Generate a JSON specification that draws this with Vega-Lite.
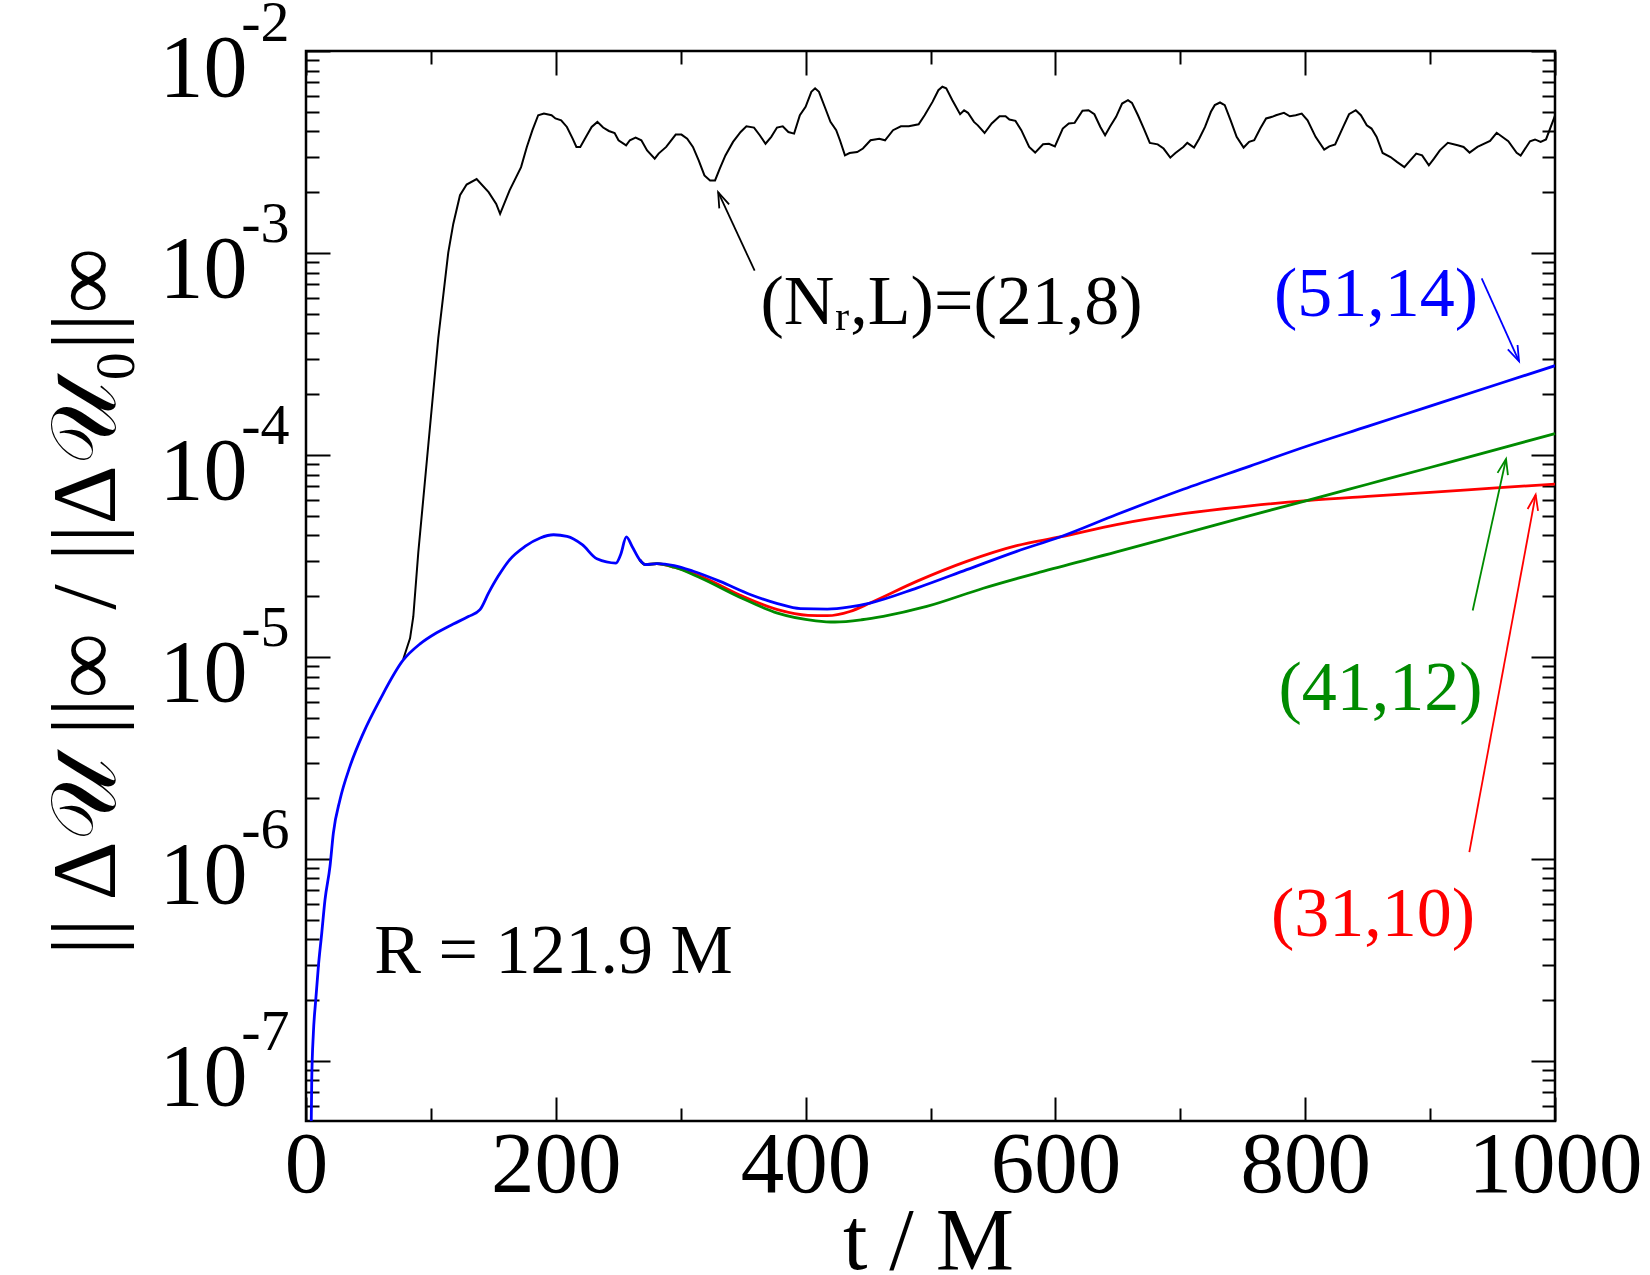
{
  "$schema": "https://vega.github.io/schema/vega-lite/v6.json",
  "width": 1249,
  "height": 1070,
  "autosize": {"type": "none"},
  "padding": {"left": 306, "top": 51, "right": 95, "bottom": 154},
  "background": "#ffffff",
  "config": {
    "view": {"stroke": "#000000", "strokeWidth": 2.5},
    "axis": {
      "grid": false, "domain": false, "tickColor": "#000000", "tickWidth": 2,
      "labelFont": "Liberation Serif", "labelColor": "#000000",
      "titleFont": "Liberation Serif", "titleColor": "#000000", "titleFontWeight": "normal",
      "labelOverlap": false, "labelFlush": false, "labelBound": false
    },
    "text": {"font": "Liberation Serif"}
  },
  "datasets": {
    "black": [
      {"t":77.9,"v":9.77e-6},{"t":83.3,"v":1.236e-5},{"t":85.9,"v":1.581e-5},{"t":89.9,"v":3.289e-5},{"t":93.9,"v":6.053e-5},
      {"t":97.9,"v":1.117e-4},{"t":101.9,"v":2.056e-4},{"t":105.9,"v":3.784e-4},{"t":109.9,"v":6.166e-4},{"t":113.9,"v":1.005e-3},
      {"t":117.9,"v":1.393e-3},{"t":123.3,"v":1.932e-3},{"t":128.6,"v":2.183e-3},{"t":136.6,"v":2.323e-3},{"t":146.2,"v":2.000e-3},
      {"t":152.3,"v":1.750e-3},{"t":155.4,"v":1.563e-3},{"t":163.0,"v":2.042e-3},{"t":172.2,"v":2.661e-3},{"t":176.8,"v":3.350e-3},
      {"t":181.3,"v":4.055e-3},{"t":185.9,"v":4.808e-3},{"t":190.5,"v":4.898e-3},{"t":196.6,"v":4.808e-3},{"t":199.7,"v":4.634e-3},
      {"t":204.3,"v":4.539e-3},{"t":208.9,"v":4.207e-3},{"t":213.5,"v":3.681e-3},{"t":216.5,"v":3.350e-3},{"t":219.6,"v":3.350e-3},
      {"t":224.2,"v":3.758e-3},{"t":228.7,"v":4.207e-3},{"t":233.3,"v":4.457e-3},{"t":237.9,"v":4.178e-3},{"t":242.5,"v":4.018e-3},
      {"t":247.1,"v":3.926e-3},{"t":250.2,"v":3.614e-3},{"t":256.3,"v":3.412e-3},{"t":259.3,"v":3.614e-3},{"t":263.9,"v":3.724e-3},
      {"t":268.5,"v":3.614e-3},{"t":273.1,"v":3.221e-3},{"t":279.2,"v":2.931e-3},{"t":282.3,"v":3.105e-3},{"t":288.4,"v":3.350e-3},
      {"t":296.0,"v":3.855e-3},{"t":300.6,"v":3.855e-3},{"t":305.2,"v":3.681e-3},{"t":309.8,"v":3.350e-3},{"t":314.4,"v":2.877e-3},
      {"t":319.0,"v":2.421e-3},{"t":323.5,"v":2.286e-3},{"t":327.5,"v":2.286e-3},{"t":331.2,"v":2.612e-3},{"t":335.8,"v":3.041e-3},
      {"t":341.9,"v":3.548e-3},{"t":348.0,"v":3.972e-3},{"t":352.6,"v":4.236e-3},{"t":358.7,"v":4.178e-3},{"t":363.3,"v":3.828e-3},
      {"t":367.9,"v":3.475e-3},{"t":372.5,"v":3.758e-3},{"t":377.1,"v":4.178e-3},{"t":381.7,"v":4.236e-3},{"t":386.2,"v":3.972e-3},
      {"t":390.8,"v":3.899e-3},{"t":395.4,"v":4.808e-3},{"t":400.0,"v":5.297e-3},{"t":404.6,"v":6.281e-3},{"t":407.6,"v":6.531e-3},
      {"t":410.7,"v":6.281e-3},{"t":415.3,"v":5.297e-3},{"t":419.9,"v":4.457e-3},{"t":424.5,"v":4.055e-3},{"t":427.5,"v":3.614e-3},
      {"t":431.5,"v":3.041e-3},{"t":435.2,"v":3.126e-3},{"t":441.3,"v":3.162e-3},{"t":445.9,"v":3.289e-3},{"t":452.0,"v":3.614e-3},
      {"t":459.0,"v":3.681e-3},{"t":463.6,"v":3.614e-3},{"t":470.0,"v":4.055e-3},{"t":476.3,"v":4.236e-3},{"t":482.6,"v":4.236e-3},
      {"t":490.5,"v":4.335e-3},{"t":495.3,"v":4.808e-3},{"t":501.6,"v":5.598e-3},{"t":506.3,"v":6.397e-3},{"t":509.5,"v":6.653e-3},
      {"t":512.6,"v":6.531e-3},{"t":517.4,"v":5.715e-3},{"t":523.7,"v":4.864e-3},{"t":526.9,"v":5.093e-3},{"t":530.0,"v":4.943e-3},
      {"t":534.8,"v":4.457e-3},{"t":537.9,"v":4.285e-3},{"t":543.3,"v":3.926e-3},{"t":549.0,"v":4.375e-3},{"t":555.3,"v":4.753e-3},
      {"t":560.1,"v":4.753e-3},{"t":563.2,"v":4.581e-3},{"t":568.0,"v":4.508e-3},{"t":572.7,"v":4.055e-3},{"t":579.0,"v":3.350e-3},
      {"t":583.8,"v":3.141e-3},{"t":590.1,"v":3.451e-3},{"t":594.8,"v":3.475e-3},{"t":599.6,"v":3.373e-3},{"t":605.9,"v":4.130e-3},
      {"t":610.7,"v":4.375e-3},{"t":615.4,"v":4.406e-3},{"t":621.7,"v":5.058e-3},{"t":626.5,"v":5.093e-3},{"t":631.2,"v":4.864e-3},
      {"t":636.0,"v":4.207e-3},{"t":639.8,"v":3.828e-3},{"t":643.9,"v":4.236e-3},{"t":648.6,"v":4.721e-3},{"t":653.4,"v":5.495e-3},
      {"t":658.1,"v":5.715e-3},{"t":661.3,"v":5.534e-3},{"t":666.1,"v":4.808e-3},{"t":670.8,"v":4.130e-3},{"t":675.6,"v":3.508e-3},
      {"t":681.9,"v":3.451e-3},{"t":686.6,"v":3.289e-3},{"t":692.0,"v":2.965e-3},{"t":696.1,"v":3.126e-3},{"t":702.4,"v":3.350e-3},
      {"t":705.6,"v":3.508e-3},{"t":711.0,"v":3.327e-3},{"t":715.1,"v":3.681e-3},{"t":719.8,"v":4.207e-3},{"t":724.5,"v":5.000e-3},
      {"t":727.6,"v":5.395e-3},{"t":731.8,"v":5.559e-3},{"t":735.6,"v":5.395e-3},{"t":740.3,"v":4.539e-3},{"t":745.1,"v":3.758e-3},
      {"t":750.7,"v":3.327e-3},{"t":755.1,"v":3.548e-3},{"t":759.2,"v":3.614e-3},{"t":764.0,"v":4.130e-3},{"t":768.7,"v":4.634e-3},
      {"t":773.5,"v":4.721e-3},{"t":776.6,"v":4.808e-3},{"t":783.0,"v":4.943e-3},{"t":787.7,"v":4.753e-3},{"t":792.4,"v":4.808e-3},
      {"t":797.2,"v":4.898e-3},{"t":801.9,"v":4.539e-3},{"t":808.3,"v":3.758e-3},{"t":815.2,"v":3.251e-3},{"t":819.3,"v":3.373e-3},
      {"t":824.0,"v":3.451e-3},{"t":830.4,"v":4.207e-3},{"t":835.1,"v":4.864e-3},{"t":840.5,"v":5.093e-3},{"t":844.6,"v":4.808e-3},
      {"t":849.3,"v":4.285e-3},{"t":853.1,"v":4.130e-3},{"t":857.2,"v":3.758e-3},{"t":862.0,"v":3.126e-3},{"t":868.3,"v":2.985e-3},
      {"t":873.7,"v":2.818e-3},{"t":879.4,"v":2.661e-3},{"t":884.1,"v":2.877e-3},{"t":888.9,"v":3.105e-3},{"t":893.6,"v":3.041e-3},
      {"t":899.0,"v":2.716e-3},{"t":903.1,"v":2.931e-3},{"t":907.8,"v":3.221e-3},{"t":914.2,"v":3.508e-3},{"t":922.1,"v":3.412e-3},
      {"t":926.8,"v":3.350e-3},{"t":931.6,"v":3.141e-3},{"t":937.9,"v":3.350e-3},{"t":948.0,"v":3.589e-3},{"t":953.3,"v":3.936e-3},
      {"t":962.6,"v":3.573e-3},{"t":969.3,"v":3.133e-3},{"t":972.5,"v":3.034e-3},{"t":980.0,"v":3.573e-3},{"t":984.0,"v":3.648e-3},
      {"t":988.5,"v":3.548e-3},{"t":992.8,"v":3.648e-3},{"t":1000,"v":4.786e-3}
    ],
    "blue": [
      {"t":3.9,"v":3.55e-8},{"t":4.6,"v":8.05e-8},{"t":5.9,"v":1.371e-7},{"t":7.8,"v":2.004e-7},{"t":9.9,"v":2.931e-7},
      {"t":12.6,"v":4.285e-7},{"t":15.2,"v":6.266e-7},{"t":19.2,"v":9.183e-7},{"t":21.9,"v":1.343e-6},{"t":27.2,"v":1.963e-6},
      {"t":35.2,"v":2.871e-6},{"t":45.9,"v":4.198e-6},{"t":59.2,"v":6.138e-6},{"t":77.9,"v":9.66e-6},{"t":91.3,"v":1.161e-5},
      {"t":104.6,"v":1.318e-5},{"t":117.9,"v":1.455e-5},{"t":130,"v":1.585e-5},{"t":139.3,"v":1.714e-5},{"t":146.2,"v":2.075e-5},
      {"t":153.8,"v":2.506e-5},{"t":163.0,"v":3.027e-5},{"t":175.3,"v":3.524e-5},{"t":187.5,"v":3.882e-5},{"t":198.2,"v":4.027e-5},
      {"t":209.0,"v":3.954e-5},{"t":221.2,"v":3.597e-5},{"t":232.9,"v":3.062e-5},{"t":248.2,"v":2.917e-5},{"t":251.9,"v":3.206e-5},
      {"t":256.5,"v":3.926e-5},{"t":261.1,"v":3.524e-5},{"t":267.2,"v":3.027e-5},{"t":271.8,"v":2.864e-5},{"t":281.0,"v":2.897e-5},
      {"t":294.8,"v":2.831e-5},{"t":310.1,"v":2.655e-5},{"t":331.5,"v":2.366e-5},{"t":356.1,"v":2.032e-5},{"t":377.5,"v":1.837e-5},
      {"t":395.9,"v":1.734e-5},{"t":417.4,"v":1.726e-5},{"t":435.6,"v":1.770e-5},{"t":451.6,"v":1.849e-5},{"t":488.9,"v":2.193e-5},
      {"t":529.0,"v":2.704e-5},{"t":569.0,"v":3.334e-5},{"t":603.7,"v":3.926e-5},{"t":649.0,"v":5.070e-5},{"t":702.4,"v":6.761e-5},
      {"t":755.8,"v":8.810e-5},{"t":801.2,"v":1.104e-4},{"t":850,"v":1.384e-4},{"t":900,"v":1.746e-4},{"t":955.8,"v":2.259e-4},
      {"t":1000,"v":2.767e-4}
    ],
    "red": [
      {"t":267.2,"v":3.027e-5},{"t":271.8,"v":2.864e-5},{"t":281.0,"v":2.897e-5},{"t":294.8,"v":2.780e-5},{"t":316.0,"v":2.506e-5},
      {"t":346.8,"v":2.032e-5},{"t":377.5,"v":1.714e-5},{"t":402.0,"v":1.607e-5},{"t":417.4,"v":1.600e-5},{"t":435.5,"v":1.679e-5},
      {"t":451.6,"v":1.849e-5},{"t":488.9,"v":2.366e-5},{"t":529.0,"v":2.972e-5},{"t":569.0,"v":3.556e-5},{"t":603.7,"v":3.926e-5},
      {"t":649.0,"v":4.519e-5},{"t":702.4,"v":5.117e-5},{"t":755.8,"v":5.598e-5},{"t":801.2,"v":5.943e-5},{"t":850,"v":6.237e-5},
      {"t":900,"v":6.531e-5},{"t":955.8,"v":6.887e-5},{"t":1000,"v":7.178e-5}
    ],
    "green": [
      {"t":267.2,"v":3.027e-5},{"t":271.8,"v":2.864e-5},{"t":281.0,"v":2.897e-5},{"t":294.8,"v":2.780e-5},{"t":316.0,"v":2.460e-5},
      {"t":346.8,"v":1.982e-5},{"t":377.5,"v":1.648e-5},{"t":408.2,"v":1.510e-5},{"t":423.5,"v":1.489e-5},{"t":444.9,"v":1.528e-5},
      {"t":462.2,"v":1.589e-5},{"t":497.0,"v":1.778e-5},{"t":542.3,"v":2.188e-5},{"t":587.7,"v":2.630e-5},{"t":649.0,"v":3.311e-5},
      {"t":702.4,"v":4.074e-5},{"t":755.8,"v":5.012e-5},{"t":801.2,"v":5.943e-5},{"t":850,"v":7.161e-5},{"t":900,"v":8.670e-5},
      {"t":955.8,"v":1.074e-4},{"t":1000,"v":1.276e-4}
    ],
    "arrows": [
      {"s":"(21,8)","t0":359.2,"v0":8.17e-4,"t1":330.0,"v1":2.0e-3},
      {"s":"(51,14)","t0":941.3,"v0":7.48e-4,"t1":971.2,"v1":2.91e-4},
      {"s":"(41,12)","t0":934.1,"v0":1.698e-5,"t1":960.8,"v1":9.55e-5},
      {"s":"(31,10)","t0":931.4,"v0":1.081e-6,"t1":984.5,"v1":6.35e-5}
    ],
    "labels": [
      {"s":"(21,8)","t":516.8,"v":5.68e-4,"text":"(Nᵣ,L)=(21,8)"},
      {"s":"(51,14)","t":856.7,"v":6.22e-4,"text":"(51,14)"},
      {"s":"(41,12)","t":860.3,"v":6.96e-6,"text":"(41,12)"},
      {"s":"(31,10)","t":854.3,"v":5.28e-7,"text":"(31,10)"},
      {"s":"(21,8)","t":198.2,"v":3.47e-7,"text":"R = 121.9 M"}
    ]
  },
  "resolve": {"axis": {"x": "independent", "y": "independent"}},
  "layer": [
    {
      "data": {"name": "black"},
      "mark": {"type": "line", "color": "#000000", "strokeWidth": 2},
      "encoding": {
        "x": {
          "field": "t", "type": "quantitative",
          "scale": {"domain": [0, 1000], "nice": false, "zero": false},
          "axis": {
            "orient": "bottom",
            "values": [0, 100, 200, 300, 400, 500, 600, 700, 800, 900, 1000],
            "format": "d",
            "labelExpr": "datum.value % 200 == 0 ? datum.label : ''",
            "tickSize": {"condition": {"test": "datum.value % 200 == 0", "value": -24}, "value": -13},
            "labelFontSize": 87, "labelBaseline": "alphabetic", "labelPadding": 94,
            "title": "t / M", "titleFontSize": 88, "titleX": 622, "titleY": 147, "titleBaseline": "alphabetic"
          }
        },
        "y": {
          "field": "v", "type": "quantitative",
          "scale": {"type": "log", "domain": [5.04e-8, 0.01], "nice": false},
          "axis": {
            "orient": "left",
            "values": [6e-8, 7e-8, 8e-8, 9e-8,
              1e-7, 2e-7, 3e-7, 4e-7, 5e-7, 6e-7, 7e-7, 8e-7, 9e-7,
              1e-6, 2e-6, 3e-6, 4e-6, 5e-6, 6e-6, 7e-6, 8e-6, 9e-6,
              1e-5, 2e-5, 3e-5, 4e-5, 5e-5, 6e-5, 7e-5, 8e-5, 9e-5,
              1e-4, 2e-4, 3e-4, 4e-4, 5e-4, 6e-4, 7e-4, 8e-4, 9e-4,
              1e-3, 2e-3, 3e-3, 4e-3, 5e-3, 6e-3, 7e-3, 8e-3, 9e-3, 1e-2],
            "labelExpr": "indexof([1e-7, 1e-6, 1e-5, 1e-4, 1e-3, 1e-2], datum.value) >= 0 ? '10' : ''",
            "tickSize": {"condition": {"test": "indexof([1e-7, 1e-6, 1e-5, 1e-4, 1e-3, 1e-2], datum.value) >= 0", "value": -24}, "value": -13},
            "labelFontSize": 88, "labelBaseline": "alphabetic", "labelOffset": 44, "labelPadding": 83,
            "title": "|| Δ𝒰 ||∞ / ||Δ𝒰₀||∞", "titleFontSize": 92, "titleAngle": -90,
            "titleX": -192, "titleY": 550, "titleBaseline": "alphabetic"
          }
        }
      }
    },
    {
      "data": {"name": "red"},
      "mark": {"type": "line", "color": "#ff0000", "strokeWidth": 2.8, "interpolate": "monotone"},
      "encoding": {
        "x": {
          "field": "t", "type": "quantitative",
          "axis": {
            "orient": "top", "labels": false, "title": null,
            "values": [0, 100, 200, 300, 400, 500, 600, 700, 800, 900, 1000],
            "tickSize": {"condition": {"test": "datum.value % 200 == 0", "value": -24}, "value": -13}
          }
        },
        "y": {
          "field": "v", "type": "quantitative",
          "axis": {
            "orient": "right", "labels": false, "title": null,
            "values": [6e-8, 7e-8, 8e-8, 9e-8,
              1e-7, 2e-7, 3e-7, 4e-7, 5e-7, 6e-7, 7e-7, 8e-7, 9e-7,
              1e-6, 2e-6, 3e-6, 4e-6, 5e-6, 6e-6, 7e-6, 8e-6, 9e-6,
              1e-5, 2e-5, 3e-5, 4e-5, 5e-5, 6e-5, 7e-5, 8e-5, 9e-5,
              1e-4, 2e-4, 3e-4, 4e-4, 5e-4, 6e-4, 7e-4, 8e-4, 9e-4,
              1e-3, 2e-3, 3e-3, 4e-3, 5e-3, 6e-3, 7e-3, 8e-3, 9e-3, 1e-2],
            "tickSize": {"condition": {"test": "indexof([1e-7, 1e-6, 1e-5, 1e-4, 1e-3, 1e-2], datum.value) >= 0", "value": -24}, "value": -13}
          }
        }
      }
    },
    {
      "data": {"name": "green"},
      "mark": {"type": "line", "color": "#008b00", "strokeWidth": 2.8, "interpolate": "monotone"},
      "encoding": {
        "x": {"field": "t", "type": "quantitative", "axis": null},
        "y": {
          "field": "v", "type": "quantitative",
          "axis": {
            "orient": "left", "ticks": false, "title": null,
            "values": [1e-7, 1e-6, 1e-5, 1e-4, 1e-3, 1e-2],
            "labelExpr": "'-' + format(-round(log(datum.value) / LN10), 'd')",
            "labelFontSize": 58, "labelBaseline": "alphabetic", "labelOffset": -11, "labelPadding": 17
          }
        }
      }
    },
    {
      "data": {"name": "blue"},
      "mark": {"type": "line", "color": "#0000ff", "strokeWidth": 2.8, "interpolate": "monotone", "clip": true},
      "encoding": {
        "x": {"field": "t", "type": "quantitative", "axis": null},
        "y": {"field": "v", "type": "quantitative", "axis": null}
      }
    },
    {
      "data": {"name": "arrows"},
      "mark": {"type": "rule", "strokeWidth": 1.8},
      "encoding": {
        "x": {"field": "t0", "type": "quantitative", "axis": null},
        "y": {"field": "v0", "type": "quantitative", "axis": null},
        "x2": {"field": "t1"},
        "y2": {"field": "v1"},
        "color": {"field": "s", "type": "nominal", "legend": null,
          "scale": {"domain": ["(21,8)", "(31,10)", "(41,12)", "(51,14)"], "range": ["#000000", "#ff0000", "#008b00", "#0000ff"]}}
      }
    },
    {
      "data": {"name": "arrows"},
      "transform": [{"filter": "datum.s == '(21,8)'"}],
      "mark": {"type": "point", "shape": "M -0.38 1.1 L 0 0 L 0.38 1.1", "filled": false, "size": 784, "strokeWidth": 1.8, "opacity": 1, "angle": 337},
      "encoding": {
        "x": {"field": "t1", "type": "quantitative", "axis": null},
        "y": {"field": "v1", "type": "quantitative", "axis": null},
        "color": {"field": "s", "type": "nominal", "legend": null}
      }
    },
    {
      "data": {"name": "arrows"},
      "transform": [{"filter": "datum.s == '(51,14)'"}],
      "mark": {"type": "point", "shape": "M -0.38 1.1 L 0 0 L 0.38 1.1", "filled": false, "size": 784, "strokeWidth": 1.8, "opacity": 1, "angle": 155.7},
      "encoding": {
        "x": {"field": "t1", "type": "quantitative", "axis": null},
        "y": {"field": "v1", "type": "quantitative", "axis": null},
        "color": {"field": "s", "type": "nominal", "legend": null}
      }
    },
    {
      "data": {"name": "arrows"},
      "transform": [{"filter": "datum.s == '(41,12)'"}],
      "mark": {"type": "point", "shape": "M -0.38 1.1 L 0 0 L 0.38 1.1", "filled": false, "size": 784, "strokeWidth": 1.8, "opacity": 1, "angle": 12.4},
      "encoding": {
        "x": {"field": "t1", "type": "quantitative", "axis": null},
        "y": {"field": "v1", "type": "quantitative", "axis": null},
        "color": {"field": "s", "type": "nominal", "legend": null}
      }
    },
    {
      "data": {"name": "arrows"},
      "transform": [{"filter": "datum.s == '(31,10)'"}],
      "mark": {"type": "point", "shape": "M -0.38 1.1 L 0 0 L 0.38 1.1", "filled": false, "size": 784, "strokeWidth": 1.8, "opacity": 1, "angle": 10.5},
      "encoding": {
        "x": {"field": "t1", "type": "quantitative", "axis": null},
        "y": {"field": "v1", "type": "quantitative", "axis": null},
        "color": {"field": "s", "type": "nominal", "legend": null}
      }
    },
    {
      "data": {"name": "labels"},
      "mark": {"type": "text", "fontSize": 70, "align": "center", "baseline": "middle"},
      "encoding": {
        "x": {"field": "t", "type": "quantitative", "axis": null},
        "y": {"field": "v", "type": "quantitative", "axis": null},
        "text": {"field": "text"},
        "color": {"field": "s", "type": "nominal", "legend": null}
      }
    }
  ]
}
